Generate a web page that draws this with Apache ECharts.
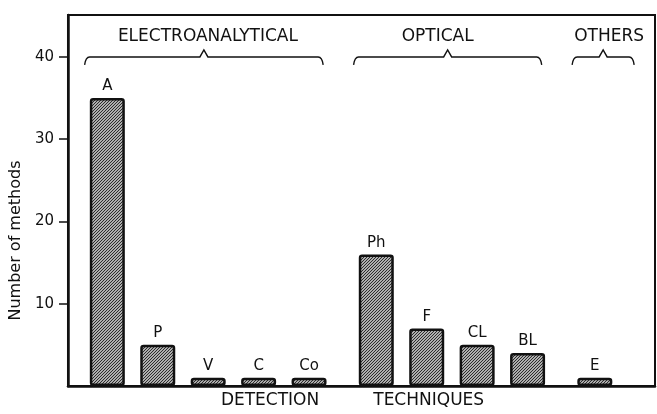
<!DOCTYPE html>
<html>
<head>
<meta charset="utf-8">
<script src="https://cdn.jsdelivr.net/npm/echarts@6/dist/echarts.min.js"></script>
<style>
  html, body { margin: 0; background: #fff; }
  #chart { width: 657px; height: 414px; }
</style>
</head>
<body>
<div id="chart"></div>
<script>
const groupNames = ['ELECTROANALYTICAL', 'OPTICAL', 'OTHERS'];
const groupLabels = [['A', 'P', 'V', 'C', 'Co'], ['Ph', 'F', 'CL', 'BL'], ['E']];
const groupValues = [[35, 5, 1, 1, 1], [16, 7, 5, 4], [1]];
const yTicks = [10, 20, 30, 40];

const FONT = 'DejaVu Sans';
const INK = '#111';
const GROUP_GAP = 1 / 3; // extra slot space between technique groups
const TITLE_NUDGE = { ELECTROANALYTICAL: 0, OPTICAL: -14, OTHERS: 2 }; // hand lettering isn't centred

// one slot per bar on a numeric axis, a little extra between groups
const bars = [];
const groups = [];
let pos = 0;
groupNames.forEach((g, gi) => {
  const first = pos;
  groupLabels[gi].forEach((lab, i) => {
    bars.push({ name: lab, value: [pos, groupValues[gi][i]] });
    pos += 1;
  });
  groups.push({ name: g, value: [first, pos - 1] });
  pos += GROUP_GAP;
});

// diagonal hatching for the bars
const hatch = document.createElement('canvas');
hatch.width = 3;
hatch.height = 3;
const hc = hatch.getContext('2d');
hc.fillStyle = '#e8e8e8';
hc.fillRect(0, 0, 3, 3);
hc.strokeStyle = '#222';
hc.lineWidth = 1.1;
hc.beginPath();
hc.moveTo(-1, 4); hc.lineTo(4, -1);
hc.moveTo(-4, 4); hc.lineTo(1, -1);
hc.moveTo(2, 4); hc.lineTo(7, -1);
hc.stroke();

const chart = echarts.init(document.getElementById('chart'));

const option = {
  animation: false,
  grid: {
    left: 67, right: 2, top: 15, bottom: 23,
    show: true, borderColor: INK, borderWidth: 2
  },
  xAxis: {
    type: 'value',
    min: -0.78,
    max: 10.86,
    axisLine: { show: true, onZero: false, lineStyle: { color: INK, width: 2.5 } },
    axisTick: { show: false },
    axisLabel: { show: false },
    splitLine: { show: false },
    name: 'DETECTION          TECHNIQUES',
    nameLocation: 'middle',
    nameGap: 6,
    nameTextStyle: {
      fontFamily: FONT, fontSize: 17, color: INK,
      padding: [0, 18, 0, 0]
    }
  },
  yAxis: {
    type: 'value',
    min: 0,
    max: 45.1,
    interval: 10,
    axisLine: { show: true, onZero: false, lineStyle: { color: INK, width: 2.5 } },
    axisTick: { show: true, length: 9, customValues: yTicks, lineStyle: { color: INK, width: 1.5 } },
    axisLabel: { customValues: yTicks, margin: 14, fontFamily: FONT, fontSize: 15, color: INK },
    splitLine: { show: false },
    name: 'Number of methods',
    nameLocation: 'middle',
    nameGap: 38,
    nameTextStyle: {
      fontFamily: FONT, fontSize: 16, color: INK,
      padding: [0, 80, 0, 0]
    }
  },
  series: [
    {
      type: 'bar',
      data: bars,
      barWidth: 35,
      itemStyle: {
        color: { image: hatch, repeat: 'repeat' },
        borderColor: INK,
        borderWidth: 2.5,
        borderRadius: 2
      },
      label: {
        show: true,
        position: 'top',
        distance: 4,
        formatter: '{b}',
        fontFamily: FONT,
        fontSize: 15,
        color: INK
      }
    },
    {
      // group braces and titles above the bars
      type: 'custom',
      data: groups,
      encode: { x: [0, 1] },
      renderItem: (params, api) => {
        const first = api.value(0);
        const last = api.value(1);
        const x0 = api.coord([first - 0.45, 40])[0];
        const x1 = api.coord([Math.max(last + 0.28, first + 0.78), 40])[0];
        const y = api.coord([first, 40])[1];
        const mid = (x0 + x1) / 2;
        const name = groupNames[params.dataIndex];
        const d = 'M' + x0 + ',' + (y + 8) +
          ' Q' + (x0 + 1) + ',' + y + ' ' + (x0 + 5) + ',' + y +
          ' L' + (mid - 4) + ',' + y +
          ' L' + mid + ',' + (y - 7) +
          ' L' + (mid + 4) + ',' + y +
          ' L' + (x1 - 5) + ',' + y +
          ' Q' + (x1 - 1) + ',' + y + ' ' + x1 + ',' + (y + 8);
        return {
          type: 'group',
          children: [
            {
              type: 'path',
              shape: { pathData: d },
              style: { fill: null, stroke: INK, lineWidth: 1.4 }
            },
            {
              type: 'text',
              x: mid + 4 + TITLE_NUDGE[name],
              y: y - 20,
              style: {
                text: name,
                fill: INK,
                fontFamily: FONT,
                fontSize: 17,
                align: 'center',
                verticalAlign: 'middle'
              }
            }
          ]
        };
      }
    }
  ]
};

chart.setOption(option);
</script>
</body>
</html>
